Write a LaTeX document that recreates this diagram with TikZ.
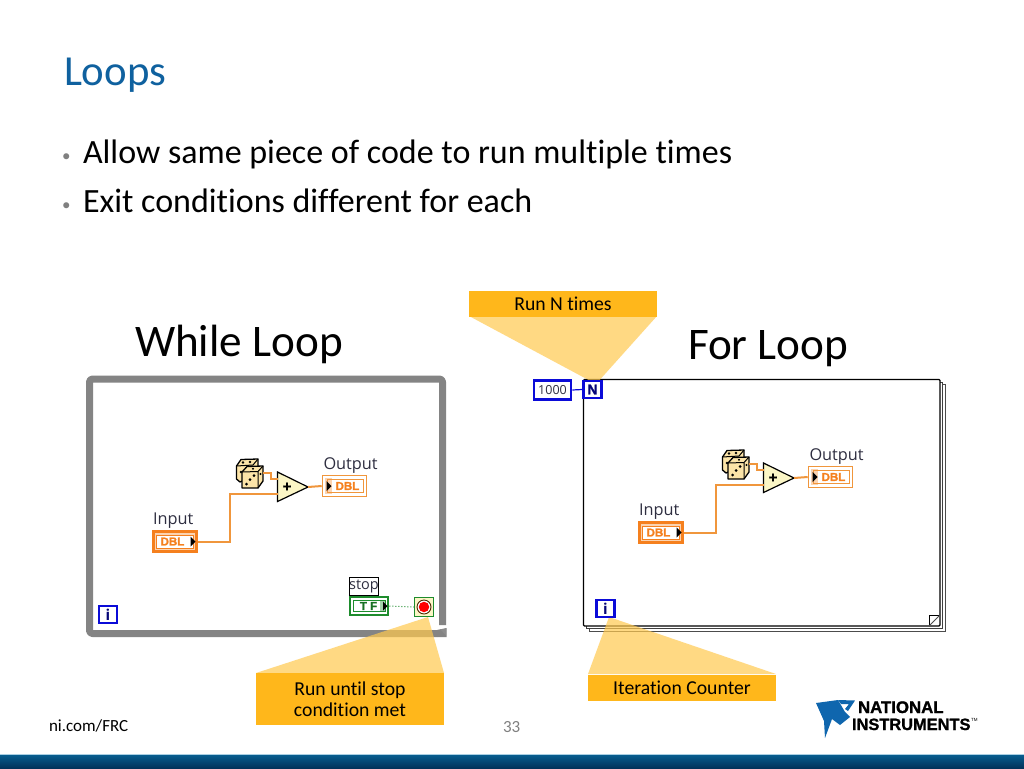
\documentclass[tikz,border=0pt]{standalone}
\usepackage{fontspec}
\setmainfont[Ligatures=NoCommon]{Carlito}
\newfontfamily\lvfont{Open Sans}
\newfontfamily\logofont{Liberation Sans}
\newfontfamily\logoheavy[FakeBold=1.2]{Liberation Sans Bold}
\usetikzlibrary{shapes.geometric,calc}
\definecolor{titleblue}{HTML}{0F619F}
\definecolor{wireorange}{HTML}{F0963C}
\definecolor{dblorange}{HTML}{F5801E}
\definecolor{lvblue}{HTML}{0B0BD8}
\definecolor{lvgreen}{HTML}{1E8C2D}
\definecolor{framegray}{HTML}{848484}
\definecolor{calloutdark}{HTML}{FFB71B}
\definecolor{calloutlight}{HTML}{FFC94F}
\definecolor{adderfill}{HTML}{FBF6C6}
\definecolor{labelink}{HTML}{2E2E40}
\definecolor{nilogo}{HTML}{0F66AE}
\definecolor{bartop}{HTML}{075C8E}
\definecolor{barbottom}{HTML}{02325A}
\definecolor{barline}{HTML}{A9CFE3}
\newcommand{\fs}[1]{\fontsize{#1}{#1}\selectfont}
\tikzset{
  x=1pt,y=-1pt,
  txt/.style={inner sep=0pt,outer sep=0pt,anchor=base west},
  wire/.style={draw=wireorange,line width=2pt},
  beam/.style={fill=calloutlight,fill opacity=.7,draw=none},
  callout/.style={fill=calloutdark,draw=none,inner sep=0pt,minimum width=188pt,align=center,text=black,font=\fs{19.7}},
  lvlabel/.style={inner sep=0pt,outer sep=0pt,anchor=base west,text=labelink,font=\lvfont\fs{16.3}},
  bluebox/.style={draw=lvblue,line width=2.6pt,fill=white,inner sep=0pt,minimum width=18pt,minimum height=17pt,text=lvblue!55!black,font=\lvfont\bfseries\fs{15}},
  inctl/.style={draw=dblorange,line width=2.4pt,fill=dblorange!35,inner sep=0pt,minimum width=43pt,minimum height=20pt},
  inner ring/.style={draw=dblorange,line width=1pt,fill=white,inner sep=0pt},
  dbl/.style={inner sep=0pt,text=dblorange,font=\logoheavy\fs{11.5}},
  outind/.style={draw=wireorange,line width=1.6pt,fill=white,inner sep=0pt,minimum width=44pt,minimum height=21pt},
  adder/.style={draw=black,line width=1.2pt,fill=adderfill,line join=miter},
  cube/.style={draw=black,line width=1.3pt,fill=adderfill!85!orange,line join=round},
}
\newcommand{\lvblock}[3]{%
  \begin{scope}[shift={(#1,#2)}]
    \node[lvlabel] (#3inlabel) at (153,524) {Input};
    \node[lvlabel] (#3outlabel) at (323.5,469) {Output};
    % input control
    \node[inctl] (#3in) at (175,541.5) {};
    \node[inner ring,minimum width=37pt,minimum height=13pt] at (174.5,541.5) {};
    \node[dbl] at (172.5,541.5) {DBL};
    \fill[black] (190.5,536.5) -- (195.5,541.5) -- (190.5,546.5) -- cycle;
    % output indicator
    \node[outind] (#3out) at (344.5,486) {};
    \fill[dblorange!35] (324.5,478) rectangle (332,494);
    \node[inner ring,draw=wireorange,fill=none,minimum width=36pt,minimum height=13pt] at (345,486) {};
    \node[dbl] at (347.5,486) {DBL};
    \fill[black] (326.5,481) -- (331.5,486) -- (326.5,491) -- cycle;
    % adder
    \draw[adder] (277.5,472) -- (308,487) -- (277.5,501.5) -- cycle;
    \node[inner sep=0pt,font=\logoheavy\fs{15}] at (287,487) {+};
    \coordinate (#3addA) at (277.5,479);
    \coordinate (#3addB) at (277.5,494);
    \coordinate (#3addO) at (308,487);
    % dice
    \draw[cube] (236.5,466) -- (241,459.5) -- (258,459) -- (258,474) -- (240,482) -- (236.5,479) -- cycle;
    \draw[black,line width=1pt] (236.5,466) -- (253,465) -- (258,459);
    \fill (243,462.5) circle (1.3pt) (250,462) circle (1.3pt) (241,472) circle (1.3pt);
    \draw[cube] (242,472) -- (247,466.5) -- (263,466) -- (263,481) -- (258,488) -- (242,488) -- cycle;
    \draw[black,line width=1pt] (242,472) -- (258,471.5) -- (263,466) (258,471.5) -- (258,488);
    \fill (246.5,484) circle (1.5pt) (250,479.5) circle (1.5pt) (254,475.5) circle (1.5pt);
    \fill (253,468.8) circle (1.1pt) (260.5,474) circle (1.1pt);
    \coordinate (#3dice) at (263,473);
    \coordinate (#3bendA) at (271,473);
    \coordinate (#3bendB) at (229.5,494);
    % wires
    \draw[wire] (#3in.east) -| (#3bendB) -- (#3addB);
    \draw[wire] (#3dice) -- (#3bendA) |- (#3addA);
    \draw[wire] (#3addO) -- (#3out.west);
  \end{scope}}
\begin{document}
\begin{tikzpicture}
\useasboundingbox (0,0) rectangle (1024,768);
\fill[white] (0,0) rectangle (1024,768);
% slide text
\node[txt,text=titleblue,font=\fs{42.8}] (title) at (64,85.5) {Loops};
\node[txt,text=gray,font=\fs{17}] (b1) at (62,161) {•};
\node[txt,font=\fs{34}] (t1) at (83,163) {Allow same piece of code to run multiple times};
\node[txt,text=gray,font=\fs{17}] (b2) at (62,210) {•};
\node[txt,font=\fs{34}] (t2) at (83,212) {Exit conditions different for each};
\node[txt,font=\fs{45.2}] (wl) at (135,356.5) {While Loop};
\node[txt,font=\fs{45.2}] (fl) at (688,359.5) {For Loop};
\node[txt,font=\fs{17}] (ni) at (49,731) {ni.com/FRC};
\node[txt,text=gray,font=\fs{17}] (pg) at (503,732) {33};
% while loop frame
\draw[framegray,line width=7pt,rounded corners=3pt,line join=round] (442.5,625) -- (442.5,379) -- (89.5,379) -- (89.5,633.5) -- (437,633.5);
\fill[framegray] (437,630) -- (446.5,628) -- (446.5,637) -- (437,637) -- cycle;
\fill[black!45] (440,629) -- (446,629) -- (446,635.5) -- cycle;
% for loop frame
\draw[black!70,line width=1pt,fill=white] (589,384.5) rectangle (945,631);
\draw[black!75,line width=1pt,fill=white] (586,382) rectangle (942.5,628.5);
\draw[black,line width=1.2pt,fill=white,rounded corners=1pt] (583.5,379.5) rectangle (940,626);
\draw[black,line width=.9pt] (929,626) -- (929,615) -- (940,615);
\draw[black!70,line width=.9pt] (929,626) -- (940,615);
% callout beams
\fill[beam] (469,316) -- (657,316) -- (596,384) -- cycle;
\fill[beam] (256,673) -- (444,673) -- (428,617) -- cycle;
\fill[beam] (588,674) -- (776,674) -- (609,617) -- cycle;
\node[callout,minimum height=26pt] (c1) at (563,303.5) {Run N times};
\node[callout,minimum height=52pt] (c2) at (350,699) {Run until stop\\[1pt]condition met};
\node[callout,minimum height=26pt] (c3) at (682,687.5) {Iteration Counter};
% diagrams
\lvblock{0}{0}{w}
\lvblock{486}{-9}{f}
% loop terminals
\node[bluebox] (wi) at (108,614.5) {i};
\node[bluebox] (fi) at (605.5,608.5) {i};
\node[bluebox,font=\logoheavy\fs{14}] (fn) at (592.5,389.5) {N};
\node[draw=lvblue,line width=2.6pt,fill=white,inner sep=0pt,minimum width=37pt,minimum height=18.5pt,text=labelink,font=\lvfont\fs{12.5}] (cnt) at (552.5,390) {1000};
\draw[lvblue,line width=1.2pt] (cnt.east) -- (fn.west);
% stop terminal
\node[draw=black,line width=1.2pt,fill=white,inner sep=0pt,minimum width=29pt,minimum height=18.5pt,text=labelink,font=\lvfont\fs{14.5}] (slabel) at (364,586.5) {stop};
\node[draw=lvgreen,line width=2.6pt,fill=white,inner sep=0pt,minimum width=38pt,minimum height=18pt] (tf) at (369,606) {};
\fill[lvgreen!40] (380,600) rectangle (386,612);
\draw[lvgreen,line width=1pt] (353,600.5) rectangle (385.5,611.5);
\node[inner sep=0pt,text=lvgreen!80!black,font=\logoheavy\fs{11.5}] at (368.5,606) {T F};
\fill[black] (383,601.5) -- (387.5,606) -- (383,610.5) -- cycle;
\node[draw=lvgreen,line width=1.4pt,fill=adderfill,inner sep=0pt,minimum size=19pt] (cond) at (424,607) {};
\node[circle,draw=black!70!orange,line width=.9pt,fill=white,inner sep=0pt,minimum size=14pt] at (424,607) {};
\node[circle,fill=red,inner sep=0pt,minimum size=10.5pt] at (424,607) {};
\draw[lvgreen,line width=1pt,dotted] (tf.east) -- (cond.west);
% footer bar
\shade[top color=bartop,bottom color=barbottom] (0,755) rectangle (1024,768);
\fill[barline] (0,754.2) rectangle (1024,755.2);
% logo
\fill[nilogo] (816,703) -- (838,700) -- (845,712) -- (850,717) -- (840,725) -- (832,719) -- (825,738) -- (824,721) -- cycle;
\fill[nilogo] (838,700) -- (855,700.5) -- (848,711) -- (845,709) -- (849,704) -- (841,704) -- cycle;
\node[txt,font=\logoheavy\fs{16.8}] (logoa) at (858,713) {NATIONAL};
\node[txt,font=\logoheavy\fs{16.4}] (logob) at (852,730) {INSTRUMENTS};
\node[txt,font=\logofont\fs{4.5}] (logoc) at (971,721) {TM};
\end{tikzpicture}
\end{document}
